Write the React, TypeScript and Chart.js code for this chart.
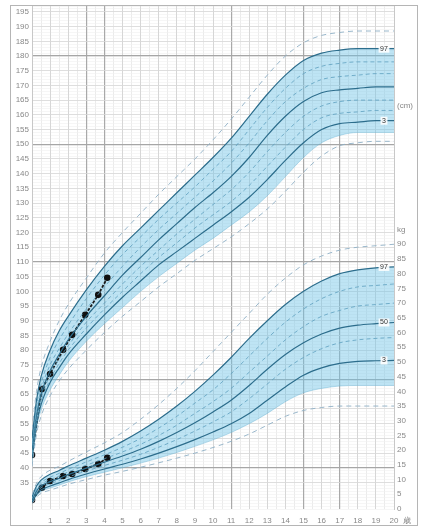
import React, { useEffect, useRef } from "react";
import { Chart, registerables } from "chart.js";

Chart.register(...registerables);

// ---------- data ----------
const AGES = [0, 0.25, 0.5, 1, 1.5, 2, 3, 4, 5, 6, 7, 8, 9, 10, 11, 12, 13, 14, 15, 16, 17, 18, 19, 20];
const AGE_TICKS = [1, 2, 3, 4, 5, 6, 7, 8, 9, 10, 11, 12, 13, 14, 15, 16, 17, 18, 19, 20];
const HEIGHT_TICKS = [35, 40, 45, 50, 55, 60, 65, 70, 75, 80, 85, 90, 95, 100, 105, 110, 115, 120, 125, 130, 135, 140, 145, 150, 155, 160, 165, 170, 175, 180, 185, 190, 195];
const WEIGHT_TICKS = [0, 5, 10, 15, 20, 25, 30, 35, 40, 45, 50, 55, 60, 65, 70, 75, 80, 85, 90, 95];
const BOLD_HEIGHT_LINES = [40, 70, 110, 150, 180];
const BOLD_AGE_LINES = [3, 4, 11, 15, 17];

const hOuterTop = [53, 66, 74, 83, 90, 95.5, 104.5, 113, 120, 126.5, 133, 139, 145, 151.5, 158.5, 166, 173.5, 180, 184.5, 187, 188, 188.5, 188.5, 188.5];
const hP97 = [50, 63, 71, 80, 86.5, 91.5, 100.5, 108.5, 115.5, 121.5, 127.5, 133.5, 139.5, 145.5, 152, 159.5, 167, 173.5, 178.5, 181, 182, 182.5, 182.5, 182.5];
const hP90 = [48.5, 61, 68.5, 77.5, 83.5, 88.5, 97.5, 105.5, 112.5, 118.5, 124.5, 130, 135.5, 141.5, 147.5, 155, 162.5, 169, 174, 176.5, 177.5, 178, 178, 178];
const hP75 = [47.5, 59.5, 66.5, 75, 80.5, 85.5, 94, 101.5, 108.5, 115, 121, 126.5, 132, 137.5, 143.5, 150.5, 158, 164.5, 169, 172, 173, 173.5, 174, 174];
const hP50 = [46.5, 58, 65, 73, 78.5, 83.5, 91.5, 98.5, 105.5, 111.5, 117.5, 123, 128.5, 133.5, 139, 145.5, 153, 159.5, 164.5, 167.5, 168.5, 169, 169.5, 169.5];
const hP25 = [45.5, 57, 63.5, 71.5, 77, 81.5, 89.5, 96, 102.5, 108.5, 114, 119.5, 124.5, 129.5, 134.5, 140.5, 147.5, 154, 159.5, 163, 164.5, 165, 165, 165];
const hP10 = [44.5, 56, 62.5, 70, 75.5, 80, 87.5, 94, 100, 106, 111.5, 116.5, 121.5, 126, 130.5, 136, 142.5, 149, 155, 159, 160.5, 161, 161.5, 161.5];
const hP3 = [43.5, 55, 61.5, 69, 74, 78.5, 85.5, 92, 98, 103.5, 109, 113.5, 118, 122.5, 127, 132, 138, 144.5, 150.5, 155, 157, 157.5, 158, 158];
const hBandBottom = [42, 53.5, 59.5, 66.5, 71.5, 76, 83, 89, 94.5, 100, 105, 109.5, 114, 118, 122.5, 127, 132.5, 139, 145.5, 150.5, 153, 154, 154, 154];
const hOuterBottom = [40.5, 51.5, 57.5, 64.5, 69.5, 73.5, 80, 86, 91.5, 96.5, 101.5, 106, 110.5, 114.5, 118.5, 123, 128, 134, 140.5, 146, 149.5, 150.5, 151, 151];

const wOuterTop = [4.8, 8.8, 11, 13.2, 14.5, 16.2, 19.4, 22.5, 26, 30.5, 35.5, 41, 47, 53.5, 60, 66.5, 73, 78.5, 83, 86, 88, 89, 89.5, 90];
const wP97 = [4.2, 7.8, 9.8, 11.8, 13.1, 14.6, 17.3, 20, 23, 26.5, 30.5, 35, 40, 45.5, 51.5, 58, 64, 69.5, 74, 77.5, 80, 81.3, 82, 82.3];
const wP90 = [3.8, 7.2, 9, 10.8, 12.1, 13.5, 16, 18.4, 21, 24, 27.5, 31.5, 36, 40.5, 46, 52, 58, 63.5, 68, 71.5, 74, 75.5, 76, 76.5];
const wP75 = [3.5, 6.7, 8.4, 10, 11.2, 12.6, 14.9, 17.1, 19.4, 22, 25, 28.5, 32.5, 36.5, 41, 46.5, 52, 57.5, 62, 65.5, 67.5, 69, 69.5, 70];
const wP50 = [3.1, 6.1, 7.8, 9.3, 10.4, 11.7, 13.9, 15.9, 18, 20.3, 23, 26, 29.3, 33, 37, 42, 47.5, 52.5, 56.5, 59.5, 61.5, 62.5, 63, 63.4];
const wP25 = [2.8, 5.6, 7.2, 8.6, 9.7, 10.9, 12.9, 14.8, 16.6, 18.6, 21, 23.6, 26.5, 29.6, 33, 37.5, 42.5, 47.5, 51.5, 54.5, 56.5, 57.5, 58, 58.3];
const wP3 = [2.5, 5.0, 6.5, 7.8, 8.9, 10, 11.9, 13.6, 15.2, 17, 19, 21.2, 23.6, 26.2, 29, 32.5, 37, 41.5, 45.5, 48, 49.5, 50.2, 50.4, 50.5];
const wBandBottom = [2.2, 4.5, 5.9, 7.1, 8.1, 9.2, 11, 12.5, 14, 15.6, 17.3, 19.2, 21.3, 23.5, 26, 29, 32.5, 36.5, 39.5, 41, 41.8, 42, 42, 42];
const wOuterBottom = [1.8, 4.0, 5.3, 6.4, 7.4, 8.4, 10, 11.5, 12.8, 14.2, 15.7, 17.3, 19, 20.9, 23, 25.5, 28.5, 31.5, 33.5, 34.5, 35, 35, 35, 35];

const childAges = [0, 0.55, 1.0, 1.72, 2.22, 2.94, 3.66, 4.16];
const childHeight = [44.4, 66.8, 71.9, 80.1, 85.2, 92.0, 98.8, 104.6];
const childWeight = [3.1, 7.2, 9.5, 11.2, 11.9, 13.6, 15.3, 17.4];

const AGE_UNIT = "歳";
const HEIGHT_UNIT = "(cm)";
const WEIGHT_UNIT = "kg";

// ---------- styling ----------
const FONT = '"Liberation Sans", "DejaVu Sans", sans-serif';
const BAND_FILL = "rgba(110,195,230,0.45)";
const STYLES: Record<string, any> = {
  solid: { borderColor: "#2c6d8c", borderWidth: 1.2 },
  inner: { borderColor: "#5d9fbf", borderWidth: 0.8, borderDash: [4, 3] },
  outer: { borderColor: "#8fb0c6", borderWidth: 0.9, borderDash: [5, 4] },
  edge: { borderColor: "rgba(100,175,210,0.7)", borderWidth: 0.6 },
};

function curve(values: number[], axis: string, kind: string, extra: any = {}) {
  return {
    type: "line",
    data: AGES.map((a, i) => ({ x: a, y: values[i] })),
    yAxisID: axis,
    pointRadius: 0,
    pointHoverRadius: 0,
    fill: false,
    cubicInterpolationMode: "monotone",
    ...STYLES[kind],
    ...extra,
  };
}

function childSeries(values: number[], axis: string) {
  return {
    type: "line",
    data: childAges.map((a, i) => ({ x: a, y: values[i] })),
    yAxisID: axis,
    borderColor: "#1a1a1a",
    borderWidth: 1.8,
    borderDash: [3, 1.5],
    pointRadius: 2.4,
    pointHoverRadius: 2.4,
    pointBackgroundColor: "#111",
    pointBorderColor: "#111",
    fill: false,
  };
}

const endLabels = {
  id: "endLabels",
  afterDatasetsDraw(chart: any) {
    const ctx = chart.ctx;
    ctx.save();
    ctx.font = `7px ${FONT}`;
    ctx.textAlign = "center";
    ctx.textBaseline = "middle";
    chart.data.datasets.forEach((ds: any, i: number) => {
      if (!ds.endLabel) return;
      const meta = chart.getDatasetMeta(i);
      const pt = meta.data[meta.data.length - 1];
      const x = pt.x - 10;
      const y = pt.y;
      const w = ctx.measureText(ds.endLabel).width + 3;
      ctx.fillStyle = "rgba(255,255,255,0.9)";
      ctx.fillRect(x - w / 2, y - 4, w, 8);
      ctx.fillStyle = "#333";
      ctx.fillText(ds.endLabel, x, y);
    });
    ctx.fillStyle = "#888";
    ctx.font = `8px ${FONT}`;
    ctx.textAlign = "left";
    ctx.textBaseline = "middle";
    const xs = chart.scales.x;
    ctx.fillText(AGE_UNIT, xs.getPixelForValue(20) + 9, xs.top + 12);
    ctx.fillText(HEIGHT_UNIT, chart.chartArea.right + 3, chart.scales.y.getPixelForValue(163));
    ctx.restore();
  },
};

function setTicks(values: number[]) {
  return (s: any) => {
    s.ticks = values.map((v) => ({ value: v }));
  };
}
function stepTicks(min: number, max: number, step: number) {
  return (s: any) => {
    const t = [];
    for (let v = min; v <= max + 1e-9; v += step) t.push({ value: v });
    s.ticks = t;
  };
}
function fitV(width: number) {
  return (s: any) => {
    s.width = width;
    s.paddingTop = 0;
    s.paddingBottom = 0;
  };
}
function fitH(height: number) {
  return (s: any) => {
    s.height = height;
    s.paddingLeft = 0;
    s.paddingRight = 0;
  };
}

export default function App() {
  const ref = useRef<HTMLCanvasElement | null>(null);
  useEffect(() => {
    if (!ref.current) return;
    const datasets: any[] = [];
    const add = (d: any) => {
      datasets.push(d);
      return datasets.length - 1;
    };
    // height
    add(curve(hOuterTop, "y", "outer"));
    const hTop = add(curve(hP97, "y", "solid", { endLabel: "97" }));
    add(curve(hP90, "y", "inner"));
    add(curve(hP75, "y", "inner"));
    add(curve(hP50, "y", "solid"));
    add(curve(hP25, "y", "inner"));
    add(curve(hP10, "y", "inner"));
    add(curve(hP3, "y", "solid", { endLabel: "3" }));
    const hBot = add(curve(hBandBottom, "y", "edge"));
    add(curve(hOuterBottom, "y", "outer"));
    datasets[hTop].fill = { target: hBot };
    datasets[hTop].backgroundColor = BAND_FILL;
    // weight
    add(curve(wOuterTop, "yW", "outer"));
    const wTop = add(curve(wP97, "yW", "solid", { endLabel: "97" }));
    add(curve(wP90, "yW", "inner"));
    add(curve(wP75, "yW", "inner"));
    add(curve(wP50, "yW", "solid", { endLabel: "50" }));
    add(curve(wP25, "yW", "inner"));
    add(curve(wP3, "yW", "solid", { endLabel: "3" }));
    const wBot = add(curve(wBandBottom, "yW", "edge"));
    add(curve(wOuterBottom, "yW", "outer"));
    datasets[wTop].fill = { target: wBot };
    datasets[wTop].backgroundColor = BAND_FILL;
    // child
    add(childSeries(childHeight, "y"));
    add(childSeries(childWeight, "yW"));

    const tickFont = { family: FONT, size: 8 };
    const chart = new Chart(ref.current, {
      type: "line",
      data: { datasets },
      plugins: [endLabels],
      options: {
        animation: false,
        responsive: true,
        maintainAspectRatio: false,
        layout: { autoPadding: false, padding: { top: 0, left: 0, right: 0, bottom: 0 } },
        plugins: {
          legend: { display: false },
          tooltip: { enabled: false },
          filler: { drawTime: "beforeDatasetsDraw" },
        },
        scales: {
          xMinor: {
            type: "linear",
            position: "bottom",
            min: 0,
            max: 20,
            afterBuildTicks: stepTicks(0, 20, 0.5),
            ticks: { display: false },
            grid: { color: "#e6e6e6", lineWidth: 0.8, drawTicks: false, z: -2 },
            border: { display: false },
            afterFit: fitH(0),
          },
          yMinor: {
            type: "linear",
            position: "left",
            min: 26,
            max: 197,
            afterBuildTicks: stepTicks(26, 197, 1),
            ticks: { display: false },
            grid: { color: "#f0f0f0", lineWidth: 0.6, drawTicks: false, z: -2 },
            border: { display: false },
            afterFit: fitV(0),
          },
          x: {
            type: "linear",
            position: "bottom",
            min: 0,
            max: 20,
            afterBuildTicks: setTicks(AGE_TICKS),
            ticks: { font: tickFont, color: "#888", padding: 7, autoSkip: false, maxRotation: 0 },
            grid: {
              drawTicks: false,
              z: -1,
              color: (c: any) => (BOLD_AGE_LINES.includes(c.tick?.value) ? "#a9a9a9" : "#d2d2d2"),
              lineWidth: (c: any) => (BOLD_AGE_LINES.includes(c.tick?.value) ? 1.2 : 0.8),
            },
            border: { display: false },
            afterFit: fitH(16),
          },
          y: {
            type: "linear",
            position: "left",
            min: 26,
            max: 197,
            afterBuildTicks: setTicks(HEIGHT_TICKS),
            ticks: { font: tickFont, color: "#888", padding: 3 },
            grid: {
              drawTicks: false,
              z: -1,
              color: (c: any) => (BOLD_HEIGHT_LINES.includes(c.tick?.value) ? "#a6a6a6" : "#d8d8d8"),
              lineWidth: (c: any) => (BOLD_HEIGHT_LINES.includes(c.tick?.value) ? 1.2 : 0.8),
            },
            border: { display: true, color: "#c8c8c8" },
            afterFit: fitV(21),
          },
          yW: {
            type: "linear",
            position: "right",
            min: 0,
            max: 171,
            afterBuildTicks: setTicks(WEIGHT_TICKS),
            ticks: {
              font: tickFont,
              color: "#888",
              padding: 3,
              callback: (v: any) => (v === 95 ? WEIGHT_UNIT : String(v)),
            },
            grid: { display: false, drawTicks: false },
            border: { display: true, color: "#c8c8c8" },
            afterFit: fitV(23),
          },
        },
      } as any,
    });
    return () => chart.destroy();
  }, []);

  return (
    <div
      style={{
        position: "fixed",
        left: 10,
        top: 5,
        width: 408,
        height: 521,
        border: "1px solid #b5b5b5",
        boxSizing: "border-box",
        background: "#fff",
      }}
    >
      <div style={{ position: "relative", width: "100%", height: "100%" }}>
        <canvas ref={ref} />
      </div>
    </div>
  );
}
